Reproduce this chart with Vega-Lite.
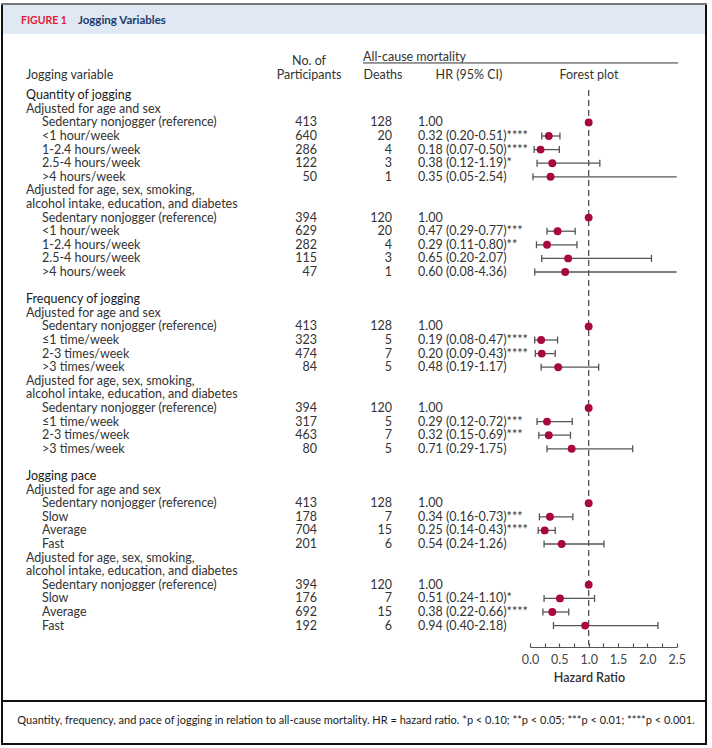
{
  "$schema": "https://vega.github.io/schema/vega-lite/v6.json",
  "width": 712,
  "height": 748,
  "autosize": {"type": "none"},
  "padding": 0,
  "background": "white",
  "config": {"view": {"stroke": null}, "font": "Liberation Sans Narrow, Lato, sans-serif"},
  "datasets": {
    "rows": [
      {"line": 0, "level": 0, "label": "Quantity of jogging"},
      {"line": 1, "level": 1, "label": "Adjusted for age and sex"},
      {"line": 2, "level": 2, "label": "Sedentary nonjogger (reference)", "n": 413, "deaths": 128, "hrText": "1.00", "hr": 1.0},
      {"line": 3, "level": 2, "label": "<1 hour/week", "n": 640, "deaths": 20, "hrText": "0.32 (0.20-0.51)****", "hr": 0.32, "lo": 0.20, "hi": 0.51},
      {"line": 4, "level": 2, "label": "1-2.4 hours/week", "n": 286, "deaths": 4, "hrText": "0.18 (0.07-0.50)****", "hr": 0.18, "lo": 0.07, "hi": 0.50},
      {"line": 5, "level": 2, "label": "2.5-4 hours/week", "n": 122, "deaths": 3, "hrText": "0.38 (0.12-1.19)*", "hr": 0.38, "lo": 0.12, "hi": 1.19},
      {"line": 6, "level": 2, "label": ">4 hours/week", "n": 50, "deaths": 1, "hrText": "0.35 (0.05-2.54)", "hr": 0.35, "lo": 0.05, "hi": 2.54},
      {"line": 7, "level": 1, "label": "Adjusted for age, sex, smoking,"},
      {"line": 8, "level": 1, "label": "alcohol intake, education, and diabetes"},
      {"line": 9, "level": 2, "label": "Sedentary nonjogger (reference)", "n": 394, "deaths": 120, "hrText": "1.00", "hr": 1.0},
      {"line": 10, "level": 2, "label": "<1 hour/week", "n": 629, "deaths": 20, "hrText": "0.47 (0.29-0.77)***", "hr": 0.47, "lo": 0.29, "hi": 0.77},
      {"line": 11, "level": 2, "label": "1-2.4 hours/week", "n": 282, "deaths": 4, "hrText": "0.29 (0.11-0.80)**", "hr": 0.29, "lo": 0.11, "hi": 0.80},
      {"line": 12, "level": 2, "label": "2.5-4 hours/week", "n": 115, "deaths": 3, "hrText": "0.65 (0.20-2.07)", "hr": 0.65, "lo": 0.20, "hi": 2.07},
      {"line": 13, "level": 2, "label": ">4 hours/week", "n": 47, "deaths": 1, "hrText": "0.60 (0.08-4.36)", "hr": 0.60, "lo": 0.08, "hi": 4.36},
      {"line": 15, "level": 0, "label": "Frequency of jogging"},
      {"line": 16, "level": 1, "label": "Adjusted for age and sex"},
      {"line": 17, "level": 2, "label": "Sedentary nonjogger (reference)", "n": 413, "deaths": 128, "hrText": "1.00", "hr": 1.0},
      {"line": 18, "level": 2, "label": "≤1 time/week", "n": 323, "deaths": 5, "hrText": "0.19 (0.08-0.47)****", "hr": 0.19, "lo": 0.08, "hi": 0.47},
      {"line": 19, "level": 2, "label": "2-3 times/week", "n": 474, "deaths": 7, "hrText": "0.20 (0.09-0.43)****", "hr": 0.20, "lo": 0.09, "hi": 0.43},
      {"line": 20, "level": 2, "label": ">3 times/week", "n": 84, "deaths": 5, "hrText": "0.48 (0.19-1.17)", "hr": 0.48, "lo": 0.19, "hi": 1.17},
      {"line": 21, "level": 1, "label": "Adjusted for age, sex, smoking,"},
      {"line": 22, "level": 1, "label": "alcohol intake, education, and diabetes"},
      {"line": 23, "level": 2, "label": "Sedentary nonjogger (reference)", "n": 394, "deaths": 120, "hrText": "1.00", "hr": 1.0},
      {"line": 24, "level": 2, "label": "≤1 time/week", "n": 317, "deaths": 5, "hrText": "0.29 (0.12-0.72)***", "hr": 0.29, "lo": 0.12, "hi": 0.72},
      {"line": 25, "level": 2, "label": "2-3 times/week", "n": 463, "deaths": 7, "hrText": "0.32 (0.15-0.69)***", "hr": 0.32, "lo": 0.15, "hi": 0.69},
      {"line": 26, "level": 2, "label": ">3 times/week", "n": 80, "deaths": 5, "hrText": "0.71 (0.29-1.75)", "hr": 0.71, "lo": 0.29, "hi": 1.75},
      {"line": 28, "level": 0, "label": "Jogging pace"},
      {"line": 29, "level": 1, "label": "Adjusted for age and sex"},
      {"line": 30, "level": 2, "label": "Sedentary nonjogger (reference)", "n": 413, "deaths": 128, "hrText": "1.00", "hr": 1.0},
      {"line": 31, "level": 2, "label": "Slow", "n": 178, "deaths": 7, "hrText": "0.34 (0.16-0.73)***", "hr": 0.34, "lo": 0.16, "hi": 0.73},
      {"line": 32, "level": 2, "label": "Average", "n": 704, "deaths": 15, "hrText": "0.25 (0.14-0.43)****", "hr": 0.25, "lo": 0.14, "hi": 0.43},
      {"line": 33, "level": 2, "label": "Fast", "n": 201, "deaths": 6, "hrText": "0.54 (0.24-1.26)", "hr": 0.54, "lo": 0.24, "hi": 1.26},
      {"line": 34, "level": 1, "label": "Adjusted for age, sex, smoking,"},
      {"line": 35, "level": 1, "label": "alcohol intake, education, and diabetes"},
      {"line": 36, "level": 2, "label": "Sedentary nonjogger (reference)", "n": 394, "deaths": 120, "hrText": "1.00", "hr": 1.0},
      {"line": 37, "level": 2, "label": "Slow", "n": 176, "deaths": 7, "hrText": "0.51 (0.24-1.10)*", "hr": 0.51, "lo": 0.24, "hi": 1.10},
      {"line": 38, "level": 2, "label": "Average", "n": 692, "deaths": 15, "hrText": "0.38 (0.22-0.66)****", "hr": 0.38, "lo": 0.22, "hi": 0.66},
      {"line": 39, "level": 2, "label": "Fast", "n": 192, "deaths": 6, "hrText": "0.94 (0.40-2.18)", "hr": 0.94, "lo": 0.40, "hi": 2.18}
    ]
  },
  "resolve": {"scale": {"x": "independent"}},
  "layer": [
    {
      "data": {"values": [{}]},
      "mark": {"type": "rect", "fill": "#dfe8f3"},
      "encoding": {
        "x": {"datum": 3, "type": "quantitative", "scale": {"domain": [0, 712], "range": [0, 712], "nice": false, "zero": false}, "axis": null},
        "x2": {"datum": 706},
        "y": {"datum": -6.63, "type": "quantitative", "scale": {"domain": [-7, 48], "reverse": true, "nice": false, "zero": false}, "axis": null},
        "y2": {"datum": -4.5}
      }
    },
    {
      "data": {"values": [{}]},
      "mark": {"type": "rect", "fillOpacity": 0, "stroke": "#111111", "strokeWidth": 2},
      "encoding": {
        "x": {"datum": 2, "type": "quantitative", "scale": {"domain": [0, 712], "range": [0, 712], "nice": false, "zero": false}, "axis": null},
        "x2": {"datum": 706},
        "y": {"datum": -6.7, "type": "quantitative"},
        "y2": {"datum": 47.7}
      }
    },
    {
      "data": {"values": [{}]},
      "mark": {"type": "rule", "color": "#999999", "strokeWidth": 1.5},
      "encoding": {
        "x": {"datum": 1, "type": "quantitative", "scale": {"domain": [0, 712], "range": [0, 712], "nice": false, "zero": false}, "axis": null},
        "x2": {"datum": 707},
        "y": {"datum": -6.7, "type": "quantitative"}
      }
    },
    {
      "data": {"values": [{}]},
      "mark": {"type": "rule", "color": "#111111", "strokeWidth": 2},
      "encoding": {
        "x": {"datum": 2, "type": "quantitative", "scale": {"domain": [0, 712], "range": [0, 712], "nice": false, "zero": false}, "axis": null},
        "x2": {"datum": 706},
        "y": {"datum": 44.54, "type": "quantitative"}
      }
    },
    {
      "data": {"values": [{}]},
      "mark": {"type": "text", "text": "FIGURE 1", "align": "left", "baseline": "middle", "fontSize": 10.5, "fontWeight": "bold", "color": "#e31b37"},
      "encoding": {
        "x": {"datum": 21, "type": "quantitative", "scale": {"domain": [0, 712], "range": [0, 712], "nice": false, "zero": false}, "axis": null},
        "y": {"datum": -5.42, "type": "quantitative"}
      }
    },
    {
      "data": {"values": [{}]},
      "mark": {"type": "text", "text": "Jogging Variables", "align": "left", "baseline": "middle", "fontSize": 11.5, "fontWeight": "bold", "color": "#1b3a6b"},
      "encoding": {
        "x": {"datum": 78, "type": "quantitative", "scale": {"domain": [0, 712], "range": [0, 712], "nice": false, "zero": false}, "axis": null},
        "y": {"datum": -5.42, "type": "quantitative"}
      }
    },
    {
      "data": {"values": [{}]},
      "mark": {"type": "text", "text": "Jogging variable", "align": "left", "baseline": "middle", "fontSize": 12.5, "color": "#333333"},
      "encoding": {
        "x": {"datum": 26, "type": "quantitative", "scale": {"domain": [0, 712], "range": [0, 712], "nice": false, "zero": false}, "axis": null},
        "y": {"datum": -1.49, "type": "quantitative"}
      }
    },
    {
      "data": {"values": [{}]},
      "mark": {"type": "text", "text": "No. of", "align": "center", "baseline": "middle", "fontSize": 12.5, "color": "#333333"},
      "encoding": {
        "x": {"datum": 309, "type": "quantitative", "scale": {"domain": [0, 712], "range": [0, 712], "nice": false, "zero": false}, "axis": null},
        "y": {"datum": -2.54, "type": "quantitative"}
      }
    },
    {
      "data": {"values": [{}]},
      "mark": {"type": "text", "text": "Participants", "align": "center", "baseline": "middle", "fontSize": 12.5, "color": "#333333"},
      "encoding": {
        "x": {"datum": 309, "type": "quantitative", "scale": {"domain": [0, 712], "range": [0, 712], "nice": false, "zero": false}, "axis": null},
        "y": {"datum": -1.49, "type": "quantitative"}
      }
    },
    {
      "data": {"values": [{}]},
      "mark": {"type": "text", "text": "All-cause mortality", "align": "left", "baseline": "middle", "fontSize": 12.5, "color": "#333333"},
      "encoding": {
        "x": {"datum": 363, "type": "quantitative", "scale": {"domain": [0, 712], "range": [0, 712], "nice": false, "zero": false}, "axis": null},
        "y": {"datum": -2.83, "type": "quantitative"}
      }
    },
    {
      "data": {"values": [{}]},
      "mark": {"type": "rule", "color": "#333333", "strokeWidth": 1},
      "encoding": {
        "x": {"datum": 363, "type": "quantitative", "scale": {"domain": [0, 712], "range": [0, 712], "nice": false, "zero": false}, "axis": null},
        "x2": {"datum": 678},
        "y": {"datum": -2.37, "type": "quantitative"}
      }
    },
    {
      "data": {"values": [{}]},
      "mark": {"type": "text", "text": "Deaths", "align": "center", "baseline": "middle", "fontSize": 12.5, "color": "#333333"},
      "encoding": {
        "x": {"datum": 383, "type": "quantitative", "scale": {"domain": [0, 712], "range": [0, 712], "nice": false, "zero": false}, "axis": null},
        "y": {"datum": -1.49, "type": "quantitative"}
      }
    },
    {
      "data": {"values": [{}]},
      "mark": {"type": "text", "text": "HR (95% CI)", "align": "center", "baseline": "middle", "fontSize": 12.5, "color": "#333333"},
      "encoding": {
        "x": {"datum": 469, "type": "quantitative", "scale": {"domain": [0, 712], "range": [0, 712], "nice": false, "zero": false}, "axis": null},
        "y": {"datum": -1.49, "type": "quantitative"}
      }
    },
    {
      "data": {"values": [{}]},
      "mark": {"type": "text", "text": "Forest plot", "align": "center", "baseline": "middle", "fontSize": 12.5, "color": "#333333"},
      "encoding": {
        "x": {"datum": 589, "type": "quantitative", "scale": {"domain": [0, 712], "range": [0, 712], "nice": false, "zero": false}, "axis": null},
        "y": {"datum": -1.49, "type": "quantitative"}
      }
    },
    {
      "data": {"name": "rows"},
      "transform": [{"filter": "datum.level == 0"}],
      "mark": {"type": "text", "align": "left", "baseline": "middle", "fontSize": 12.5, "color": "#1a1a1a"},
      "encoding": {
        "x": {"datum": 26, "type": "quantitative", "scale": {"domain": [0, 712], "range": [0, 712], "nice": false, "zero": false}, "axis": null},
        "y": {"field": "line", "type": "quantitative"},
        "text": {"field": "label"}
      }
    },
    {
      "data": {"name": "rows"},
      "transform": [{"filter": "datum.level >= 1"}],
      "mark": {"type": "text", "align": "left", "baseline": "middle", "fontSize": 12.5, "color": "#333333"},
      "encoding": {
        "x": {"field": "level", "type": "quantitative", "scale": {"domain": [1, 2], "range": [26, 42], "nice": false, "zero": false}, "axis": null},
        "y": {"field": "line", "type": "quantitative"},
        "text": {"field": "label"}
      }
    },
    {
      "data": {"name": "rows"},
      "transform": [{"filter": "isValid(datum.n)"}],
      "mark": {"type": "text", "align": "right", "baseline": "middle", "fontSize": 12.5, "color": "#333333"},
      "encoding": {
        "x": {"datum": 317, "type": "quantitative", "scale": {"domain": [0, 712], "range": [0, 712], "nice": false, "zero": false}, "axis": null},
        "y": {"field": "line", "type": "quantitative"},
        "text": {"field": "n", "type": "quantitative", "format": "d"}
      }
    },
    {
      "data": {"name": "rows"},
      "transform": [{"filter": "isValid(datum.deaths)"}],
      "mark": {"type": "text", "align": "right", "baseline": "middle", "fontSize": 12.5, "color": "#333333"},
      "encoding": {
        "x": {"datum": 392, "type": "quantitative", "scale": {"domain": [0, 712], "range": [0, 712], "nice": false, "zero": false}, "axis": null},
        "y": {"field": "line", "type": "quantitative"},
        "text": {"field": "deaths", "type": "quantitative", "format": "d"}
      }
    },
    {
      "data": {"name": "rows"},
      "transform": [{"filter": "isValid(datum.hrText)"}],
      "mark": {"type": "text", "align": "left", "baseline": "middle", "fontSize": 12.5, "color": "#333333"},
      "encoding": {
        "x": {"datum": 418, "type": "quantitative", "scale": {"domain": [0, 712], "range": [0, 712], "nice": false, "zero": false}, "axis": null},
        "y": {"field": "line", "type": "quantitative"},
        "text": {"field": "hrText"}
      }
    },
    {
      "data": {"values": [{}]},
      "mark": {"type": "rule", "color": "#444444", "strokeWidth": 1.2, "strokeDash": [6, 4]},
      "encoding": {
        "x": {"datum": 1, "type": "quantitative", "scale": {"domain": [0, 2.5], "range": [530, 676.7], "clamp": true, "nice": false, "zero": false}, "axis": null},
        "y": {"datum": -0.38, "type": "quantitative"},
        "y2": {"datum": 40.4}
      }
    },
    {
      "data": {"name": "rows"},
      "transform": [{"filter": "isValid(datum.lo)"}],
      "mark": {"type": "rule", "color": "#555555", "strokeWidth": 1.3},
      "encoding": {
        "x": {"field": "lo", "type": "quantitative", "scale": {"domain": [0, 2.5], "range": [530, 676.7], "clamp": true, "nice": false, "zero": false}, "axis": null},
        "x2": {"field": "hi"},
        "y": {"field": "line", "type": "quantitative"}
      }
    },
    {
      "data": {"name": "rows"},
      "transform": [
        {"fold": ["lo", "hi"], "as": ["end", "v"]},
        {"filter": "isValid(datum.v) && datum.v <= 2.5"}
      ],
      "mark": {"type": "rule", "color": "#555555", "strokeWidth": 1.3, "yOffset": -3.5, "y2Offset": 3.5},
      "encoding": {
        "x": {"field": "v", "type": "quantitative", "scale": {"domain": [0, 2.5], "range": [530, 676.7], "clamp": true, "nice": false, "zero": false}, "axis": null},
        "y": {"field": "line", "type": "quantitative"},
        "y2": {"field": "line"}
      }
    },
    {
      "data": {"name": "rows"},
      "transform": [{"filter": "isValid(datum.hr)"}],
      "mark": {"type": "point", "shape": "circle", "filled": true, "size": 62, "color": "#a8093c", "opacity": 1},
      "encoding": {
        "x": {
          "field": "hr", "type": "quantitative",
          "scale": {"domain": [0, 2.5], "range": [530, 676.7], "clamp": true, "nice": false, "zero": false},
          "axis": {
            "orient": "bottom",
            "offset": -101,
            "values": [0, 0.25, 0.5, 0.75, 1, 1.25, 1.5, 1.75, 2, 2.25, 2.5],
            "labelExpr": "datum.value * 2 % 1 == 0 ? format(datum.value, '.1f') : ''",
            "labelOverlap": false,
            "labelFlush": false,
            "grid": false,
            "tickSize": -4,
            "tickColor": "#555555",
            "tickWidth": 1.2,
            "domainColor": "#555555",
            "domainWidth": 1.2,
            "labelPadding": 10,
            "labelFontSize": 12.5,
            "labelColor": "#444444",
            "title": "Hazard Ratio",
            "titleFontSize": 12.5,
            "titleFontWeight": 600,
            "titleColor": "#333333",
            "titleX": 589,
            "titleY": 30,
            "titleBaseline": "middle"
          }
        },
        "y": {"field": "line", "type": "quantitative"}
      }
    },
    {
      "data": {"values": [{}]},
      "mark": {"type": "text", "text": "Quantity, frequency, and pace of jogging in relation to all-cause mortality. HR = hazard ratio. *p < 0.10; **p < 0.05; ***p < 0.01; ****p < 0.001.", "align": "center", "baseline": "middle", "fontSize": 11, "color": "#1a1a1a"},
      "encoding": {
        "x": {"datum": 356, "type": "quantitative", "scale": {"domain": [0, 712], "range": [0, 712], "nice": false, "zero": false}, "axis": null},
        "y": {"datum": 46.05, "type": "quantitative"}
      }
    }
  ]
}
